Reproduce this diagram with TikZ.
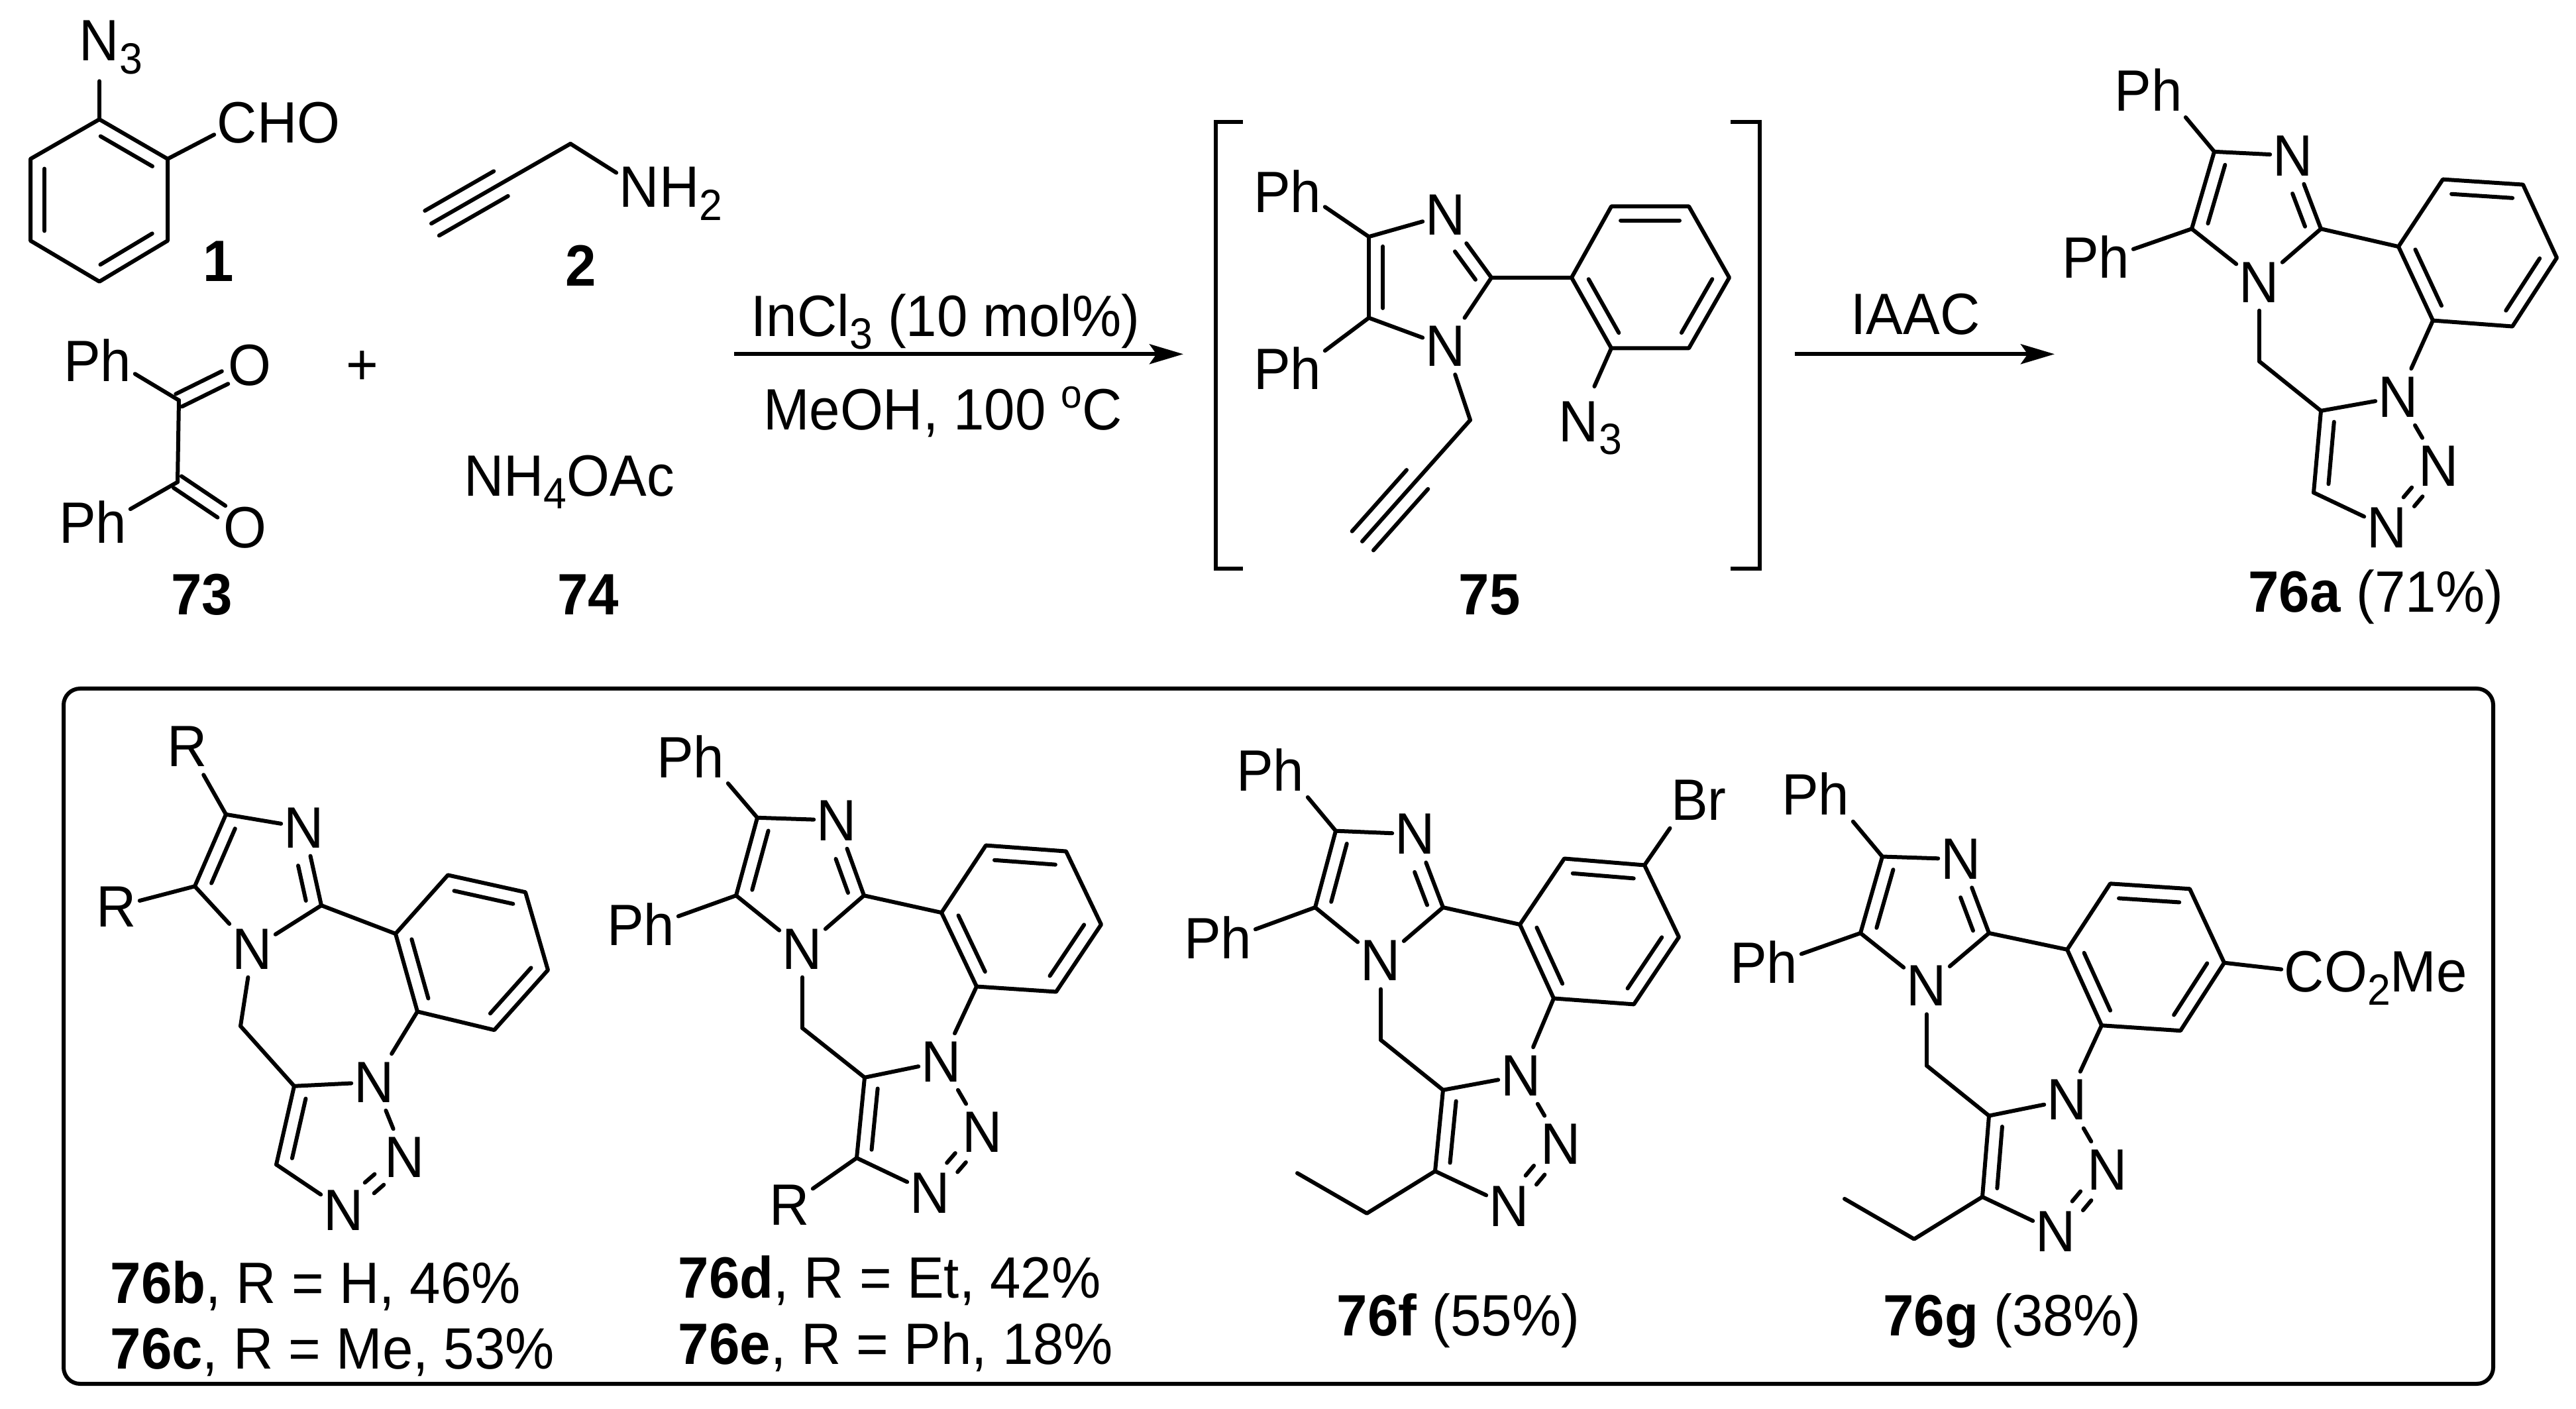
\documentclass[tikz,border=0pt]{standalone}
\usepackage{fontspec}
\setmainfont[FakeStretch=0.948]{Liberation Sans}
\usetikzlibrary{calc,arrows.meta}
\newcommand{\subs}[1]{\raisebox{-.22em}{\fontsize{16.5}{18}\selectfont #1}}
\newcommand{\tailtext}[1]{\rlap{\smash{#1}}}
\newcommand{\phlabel}{\kern.14em\llap{P}h}
\tikzset{
  bond/.style={line width=1.5pt,line cap=round,line join=round},
  atom/.style={rectangle,inner sep=0pt,minimum width=17pt,minimum height=21pt},
  txt/.style={anchor=base,inner sep=0pt},
  rxn/.style={line width=1.5pt,-{Stealth[length=12.75pt,width=7.5pt,inset=2.6pt]}},
  every node/.style={font=\fontsize{22}{25}\selectfont},
}
% inner line of a double bond, on the left of a->b
\newcommand{\inbond}[4]{\draw[bond] ($(#1)!#3!(#2)!5.3pt!90:(#2)$) -- ($(#1)!#4!(#2)!5.3pt!90:(#2)$);}
% two parallel lines either side of a--b
\newcommand{\dbond}[4]{%
  \draw[bond] ($(#1)!#3!(#2)!2.65pt!90:(#2)$) -- ($(#1)!#4!(#2)!2.65pt!90:(#2)$);
  \draw[bond] ($(#1)!#3!(#2)!2.65pt!-90:(#2)$) -- ($(#1)!#4!(#2)!2.65pt!-90:(#2)$);}
% outer lines of a triple bond
\newcommand{\tbond}[4]{%
  \draw[bond] ($(#1)!#3!(#2)!5.4pt!90:(#2)$) -- ($(#1)!#4!(#2)!5.4pt!90:(#2)$);
  \draw[bond] ($(#1)!#3!(#2)!5.4pt!-90:(#2)$) -- ($(#1)!#4!(#2)!5.4pt!-90:(#2)$);}
% imidazole + benzene + triazole skeleton, atoms named with prefix
\newcommand{\tricycle}[1]{%
  \draw[bond] (#1c4) -- (#1n3);
  \draw[bond] (#1n3) -- (#1c2);
  \inbond{#1c2}{#1n3}{.1}{.55}
  \draw[bond] (#1c2) -- (#1n1);
  \draw[bond] (#1n1) -- (#1c5);
  \draw[bond] (#1c5) -- (#1c4);
  \inbond{#1c4}{#1c5}{.12}{.88}
  \draw[bond] (#1c2) -- (#1a1);
  \draw[bond] (#1a1) -- (#1a2) -- (#1a3) -- (#1a4) -- (#1a5) -- (#1a6) -- cycle;
  \inbond{#1a1}{#1a6}{.12}{.88}
  \inbond{#1a5}{#1a4}{.12}{.88}
  \inbond{#1a3}{#1a2}{.12}{.88}
  \draw[bond] (#1a6) -- (#1t1);
  \draw[bond] (#1n1) -- (#1h);
  \draw[bond] (#1h) -- (#1t5);
  \draw[bond] (#1t5) -- (#1t1);
  \draw[bond] (#1t1) -- (#1t2);
  \dbond{#1t3}{#1t2}{.42}{.58}
  \draw[bond] (#1t3) -- (#1t4);
  \draw[bond] (#1t4) -- (#1t5);
  \inbond{#1t5}{#1t4}{.12}{.88}
}
\begin{document}
\begin{tikzpicture}[x=0.25pt,y=-0.24875pt]
\path[use as bounding box,fill=white] (0,0) rectangle (3888,2136.68);

% ---------- 1
\coordinate (b1) at (150,181); \coordinate (b2) at (253,241); \coordinate (b3) at (253,365);
\coordinate (b4) at (150,427); \coordinate (b5) at (46,365); \coordinate (b6) at (46,241);
\node[atom,minimum height=30pt] (az1) at (150,62) {N\tailtext{\subs{3}}};
\node[atom] (cho) at (358,186) {C\tailtext{HO}};
\draw[bond] (b1) -- (b2) -- (b3) -- (b4) -- (b5) -- (b6) -- cycle;
\inbond{b2}{b1}{.12}{.88}
\inbond{b6}{b5}{.12}{.88}
\inbond{b4}{b3}{.12}{.88}
\draw[bond] (b1) -- (az1);
\draw[bond] (b2) -- (cho);
\node[txt] (l1) at (330,427) {\textbf{1}};

% ---------- 2
\coordinate (pc) at (861,218); \coordinate (pa) at (651,339);
\node[atom] (nh2) at (965,284) {N\tailtext{H\subs{2}}};
\draw[bond] (pa) -- (pc);
\tbond{pc}{pa}{.5}{.995}
\draw[bond] (pc) -- (nh2);
\node[txt] (l2) at (877,434) {\textbf{2}};

% ---------- 73
\coordinate (k1) at (270,607); \coordinate (k2) at (268,731);
\node[atom] (kph1) at (169,546) {\phlabel};
\node[atom] (kph2) at (162,792) {\phlabel};
\node[atom] (ko1) at (377,554) {O};
\node[atom] (ko2) at (370,800) {O};
\draw[bond] (k1) -- (k2);
\draw[bond] (k1) -- (kph1);
\draw[bond] (k2) -- (kph2);
\dbond{k1}{ko1}{0}{.65}
\dbond{k2}{ko2}{0}{.65}
\node[txt] (l73) at (305,932) {\textbf{73}};

\node[txt] (plus) at (547,583) {+};
\node[txt] (l74txt) at (859,752) {NH\subs{4}OAc};
\node[txt] (l74) at (888,932) {\textbf{74}};

% ---------- arrow 1
\coordinate (r1s) at (1108,537); \coordinate (r1e) at (1786,537);
\draw[rxn] (r1s) -- (r1e);
\node[txt] (cond1) at (1427,510) {InCl\subs{3} (10 mol\%)};
\node[txt] (cond2) at (1423,652) {MeOH, 100 \raisebox{.38em}{\fontsize{15}{17}\selectfont o}C};

% ---------- 75
\coordinate (q1a) at (1876,185); \coordinate (q1b) at (1835,185); \coordinate (q1c) at (1835,862); \coordinate (q1d) at (1876,862);
\coordinate (q2a) at (2612,185); \coordinate (q2b) at (2656,185); \coordinate (q2c) at (2656,862); \coordinate (q2d) at (2612,862);
\draw[bond,line cap=butt,line join=miter] (q1a) -- (q1b) -- (q1c) -- (q1d);
\draw[bond,line cap=butt,line join=miter] (q2a) -- (q2b) -- (q2c) -- (q2d);
\coordinate (ic4) at (2066,359); \coordinate (ic2) at (2251,421); \coordinate (ic5) at (2066,482);
\node[atom] (in3) at (2182,326) {N};
\node[atom] (in1) at (2182,525) {N};
\node[atom] (iph1) at (1965,290) {\phlabel};
\node[atom] (iph2) at (1965,558) {\phlabel};
\coordinate (ia1) at (2372,421); \coordinate (ia2) at (2432,313); \coordinate (ia3) at (2549,313);
\coordinate (ia4) at (2610,421); \coordinate (ia5) at (2549,528); \coordinate (ia6) at (2432,528);
\node[atom,minimum height=26pt] (iaz) at (2383,639) {N\tailtext{\subs{3}}};
\coordinate (ih) at (2219,637); \coordinate (ial) at (2056,821);
\draw[bond] (ic4) -- (in3);
\draw[bond] (in3) -- (ic2);
\inbond{ic2}{in3}{.1}{.55}
\draw[bond] (ic2) -- (in1);
\draw[bond] (in1) -- (ic5);
\draw[bond] (ic5) -- (ic4);
\inbond{ic4}{ic5}{.12}{.88}
\draw[bond] (ic4) -- (iph1);
\draw[bond] (ic5) -- (iph2);
\draw[bond] (ic2) -- (ia1);
\draw[bond] (ia1) -- (ia2) -- (ia3) -- (ia4) -- (ia5) -- (ia6) -- cycle;
\inbond{ia1}{ia6}{.12}{.88}
\inbond{ia5}{ia4}{.12}{.88}
\inbond{ia3}{ia2}{.12}{.88}
\draw[bond] (ia6) -- (iaz);
\draw[bond] (in1) -- (ih);
\draw[bond] (ih) -- (ial);
\tbond{ih}{ial}{.49}{.995}
\node[txt] (l75) at (2248,932) {\textbf{75}};

% ---------- arrow 2
\coordinate (r2s) at (2709,537); \coordinate (r2e) at (3101,537);
\draw[rxn] (r2s) -- (r2e);
\node[txt] (iaac) at (2891,507) {IAAC};

% ---------- 76a
\coordinate (ac4) at (3342,230); \coordinate (ac2) at (3503,347); \coordinate (ac5) at (3308,347);
\node[atom] (an3) at (3461,236) {N};
\node[atom] (an1) at (3410,428) {N};
\node[atom] (aph1) at (3264,136) {\phlabel};
\node[atom] (aph2) at (3185,390) {\phlabel};
\coordinate (aa1) at (3620,374); \coordinate (aa2) at (3687,272); \coordinate (aa3) at (3808,280);
\coordinate (aa4) at (3859,391); \coordinate (aa5) at (3792,495); \coordinate (aa6) at (3672,486);
\coordinate (ah) at (3410,548); \coordinate (at5) at (3503,623); \coordinate (at4) at (3492,747);
\node[atom] (at1) at (3620,602) {N};
\node[atom] (at2) at (3681,707) {N};
\node[atom] (at3) at (3603,800) {N};
\tricycle{a}
\draw[bond] (ac4) -- (aph1);
\draw[bond] (ac5) -- (aph2);
\node[txt] (l76a) at (3586,928) {\textbf{76a} (71\%)};

% ---------- box
\node[draw,line width=1.5pt,rounded corners=6.2pt,inner sep=0pt,minimum width=916.75pt,minimum height=262.25pt,anchor=north west] (panel) at (93,1041.2) {};

% ---------- 76b/c
\coordinate (bc4) at (341,1235); \coordinate (bc2) at (485,1373); \coordinate (bc5) at (294,1344);
\node[atom] (bn3) at (459,1255) {N};
\node[atom] (bn1) at (381,1439) {N};
\node[atom] (br1) at (283,1132) {R};
\node[atom] (br2) at (176,1375) {R};
\coordinate (ba1) at (597,1416); \coordinate (ba2) at (676,1327); \coordinate (ba3) at (793,1353);
\coordinate (ba4) at (827,1471); \coordinate (ba5) at (746,1562); \coordinate (ba6) at (630,1534);
\coordinate (bh) at (363,1556); \coordinate (bt5) at (444,1647); \coordinate (bt4) at (417,1766);
\node[atom] (bt1) at (565,1641) {N};
\node[atom] (bt2) at (611,1755) {N};
\node[atom] (bt3) at (519,1835) {N};
\tricycle{b}
\draw[bond] (bc4) -- (br1);
\draw[bond] (bc5) -- (br2);
\node[txt,anchor=base west] (l76b) at (166,1976) {\textbf{76b}, R = H, 46\%};
\node[txt,anchor=base west] (l76c) at (166,2076) {\textbf{76c}, R = Me, 53\%};

% ---------- 76d/e
\coordinate (dc4) at (1143,1240); \coordinate (dc2) at (1304,1358); \coordinate (dc5) at (1111,1358);
\node[atom] (dn3) at (1263,1244) {N};
\node[atom] (dn1) at (1211,1439) {N};
\node[atom] (dph1) at (1064,1147) {\phlabel};
\node[atom] (dph2) at (989,1402) {\phlabel};
\coordinate (da1) at (1421,1384); \coordinate (da2) at (1488,1282); \coordinate (da3) at (1609,1291);
\coordinate (da4) at (1662,1402); \coordinate (da5) at (1594,1504); \coordinate (da6) at (1474,1496);
\coordinate (dh) at (1211,1559); \coordinate (dt5) at (1305,1634); \coordinate (dt4) at (1293,1756);
\node[atom] (dt1) at (1421,1610) {N};
\node[atom] (dt2) at (1483,1717) {N};
\node[atom] (dt3) at (1404,1809) {N};
\node[atom] (dr) at (1192,1827) {R};
\tricycle{d}
\draw[bond] (dc4) -- (dph1);
\draw[bond] (dc5) -- (dph2);
\draw[bond] (dt4) -- (dr);
\node[txt,anchor=base west] (l76d) at (1023,1968) {\textbf{76d}, R = Et, 42\%};
\node[txt,anchor=base west] (l76e) at (1023,2069) {\textbf{76e}, R = Ph, 18\%};

% ---------- 76f
\coordinate (fc4) at (2016,1260); \coordinate (fc2) at (2178,1376); \coordinate (fc5) at (1985,1376);
\node[atom] (fn3) at (2136,1265) {N};
\node[atom] (fn1) at (2084,1457) {N};
\node[atom] (fph1) at (1939,1167) {\phlabel};
\node[atom] (fph2) at (1860,1422) {\phlabel};
\coordinate (fa1) at (2294,1402); \coordinate (fa2) at (2361,1302); \coordinate (fa3) at (2482,1312);
\coordinate (fa4) at (2534,1421); \coordinate (fa5) at (2466,1523); \coordinate (fa6) at (2345,1514);
\node[atom] (fbr) at (2550,1213) {B\tailtext{r}};
\coordinate (fh) at (2084,1577); \coordinate (ft5) at (2178,1653); \coordinate (ft4) at (2166,1776);
\node[atom] (ft1) at (2296,1631) {N};
\node[atom] (ft2) at (2356,1735) {N};
\node[atom] (ft3) at (2278,1829) {N};
\coordinate (fe1) at (2063,1840); \coordinate (fe2) at (1958,1779);
\tricycle{f}
\draw[bond] (fc4) -- (fph1);
\draw[bond] (fc5) -- (fph2);
\draw[bond] (fa3) -- (fbr);
\draw[bond] (ft4) -- (fe1) -- (fe2);
\node[txt] (l76f) at (2201,2026) {\textbf{76f} (55\%)};

% ---------- 76g
\coordinate (gc4) at (2841,1299); \coordinate (gc2) at (3002,1415); \coordinate (gc5) at (2808,1415);
\node[atom] (gn3) at (2960,1303) {N};
\node[atom] (gn1) at (2908,1495) {N};
\node[atom] (gph1) at (2762,1204) {\phlabel};
\node[atom] (gph2) at (2684,1459) {\phlabel};
\coordinate (ga1) at (3120,1440); \coordinate (ga2) at (3185,1340); \coordinate (ga3) at (3305,1348);
\coordinate (ga4) at (3357,1460); \coordinate (ga5) at (3291,1563); \coordinate (ga6) at (3172,1555);
\node[atom] (gco) at (3478,1474) {C\tailtext{O\subs{2}Me}};
\coordinate (gh) at (2908,1616); \coordinate (gt5) at (3002,1692); \coordinate (gt4) at (2992,1815);
\node[atom] (gt1) at (3120,1668) {N};
\node[atom] (gt2) at (3181,1774) {N};
\node[atom] (gt3) at (3103,1868) {N};
\coordinate (ge1) at (2889,1879); \coordinate (ge2) at (2784,1818);
\tricycle{g}
\draw[bond] (gc4) -- (gph1);
\draw[bond] (gc5) -- (gph2);
\draw[bond] (ga4) -- (gco);
\draw[bond] (gt4) -- (ge1) -- (ge2);
\node[txt] (l76g) at (3037,2026) {\textbf{76g} (38\%)};
\end{tikzpicture}
\end{document}
